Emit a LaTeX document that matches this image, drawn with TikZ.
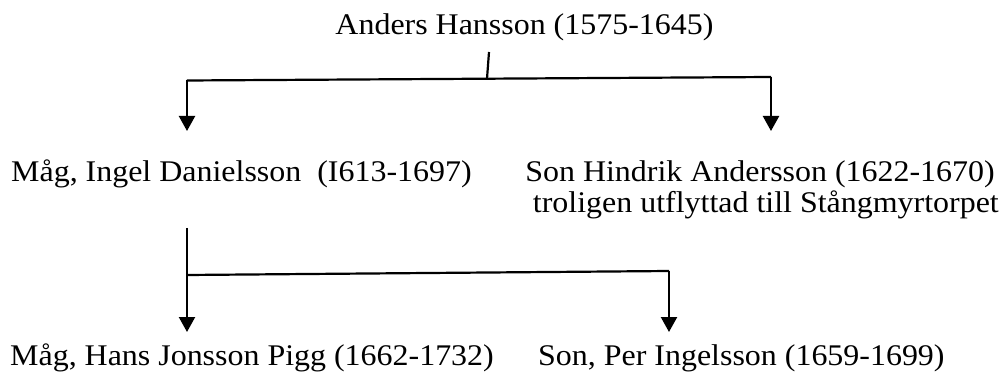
\documentclass[tikz,border=0pt]{standalone}
\usepackage{fontspec}
\setmainfont{Liberation Serif}[FakeStretch=1.065]
\usetikzlibrary{arrows.meta}
\begin{document}
\begin{tikzpicture}[x=1pt,y=-1pt,
  lbl/.style={inner sep=0pt,font=\fontsize{30}{32}\selectfont},
  conn/.style={line width=2.2pt,black},
  arr/.style={conn,-{Triangle[width=16pt,length=15pt]}}]
\useasboundingbox (0,0) rectangle (1001,374);
% people
\node[lbl,anchor=base] (anders) at (524.5,35) {Anders Hansson (1575-1645)};
\node[lbl,anchor=base west] (ingel) at (11,182) {Måg, Ingel Danielsson\ \ (I613-1697)};
\node[lbl,anchor=base east] (hindrik) at (995,182) {Son Hindrik Andersson (1622-1670)};
\node[lbl,anchor=base east] (hindriknote) at (999,213) {troligen utflyttad till Stångmyrtorpet};
\node[lbl,anchor=base west] (hans) at (10,365) {Måg, Hans Jonsson Pigg (1662-1732)};
\node[lbl,anchor=base west] (per) at (538,365) {Son, Per Ingelsson (1659-1699)};
% junction points
\coordinate (s0) at (489,52);
\coordinate (h0) at (487,78.7);
\coordinate (hL) at (187,80.5);
\coordinate (hR) at (771,77);
\coordinate (tL) at (187,131);
\coordinate (tR) at (771,131);
\coordinate (s1) at (187,228);
\coordinate (gL) at (187,275);
\coordinate (gR) at (669,271);
\coordinate (uL) at (187,332);
\coordinate (uR) at (669,332);
% connectors
\draw[conn] (s0) -- (h0);
\draw[conn] (hL) -- (hR);
\draw[arr] (hL) -- (tL);
\draw[arr] (hR) -- (tR);
\draw[arr] (s1) -- (uL);
\draw[conn] (gL) -- (gR);
\draw[arr] (gR) -- (uR);
\end{tikzpicture}
\end{document}
